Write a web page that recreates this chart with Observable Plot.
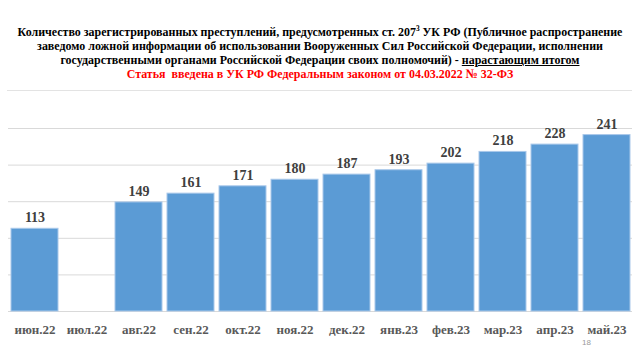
<!DOCTYPE html>
<html>
<head>
<meta charset="utf-8">
<script src="https://cdn.jsdelivr.net/npm/d3@7"></script>
<script src="https://cdn.jsdelivr.net/npm/@observablehq/plot@0.6"></script>
<style>
  html, body { margin: 0; padding: 0; background: #fff; }
  body { width: 640px; height: 360px; position: relative; overflow: hidden; font-family: "Liberation Serif", "Times New Roman", serif; }
  #title { position: absolute; left: 7px; top: 0; width: 625px; height: 91px; border-bottom: 1px solid #E3E3E3; box-sizing: border-box; font-weight: bold; font-size: 13px; line-height: 14px; color: #000; }
  #title .inner { position: absolute; left: 50%; top: 25px; width: 800px; text-align: center; white-space: nowrap; transform: translateX(-50%) scaleX(0.92); transform-origin: 50% 0; }
  #title .red { color: #FF0000; }
  #title u { text-decoration: underline; }
  #chart { position: absolute; left: 0; top: 92px; }
  #page { position: absolute; left: 582px; top: 338px; font-family: "Liberation Sans", Arial, sans-serif; font-size: 8px; color: #9A9A9A; }
</style>
</head>
<body>
<div id="title">
  <div class="inner">
    <div>Количество зарегистрированных преступлений, предусмотренных ст. 207<sup style="font-size:8px;line-height:0">3</sup> УК РФ (Публичное распространение</div>
    <div>заведомо ложной информации об использовании Вооруженных Сил Российской Федерации, исполнении</div>
    <div>государственными органами Российской Федерации своих полномочий) - <u>нарастающим итогом</u></div>
    <div class="red">Статья&nbsp; введена в УК РФ Федеральным законом от 04.03.2022 № 32-ФЗ</div>
  </div>
</div>
<div id="chart"></div>
<div id="page">18</div>
<script>
const months = ["июн.22","июл.22","авг.22","сен.22","окт.22","ноя.22","дек.22","янв.23","фев.23","мар.23","апр.23","май.23"];
const values = [113, null, 149, 161, 171, 180, 187, 193, 202, 218, 228, 241];
const yTicks = [0, 50, 100, 150, 200, 250];

const data = months.map((m, i) => ({month: m, value: values[i]}));
const present = data.filter(d => d.value != null);

const chart = Plot.plot({
  width: 640,
  height: 268,
  marginLeft: 5,
  marginRight: 5,
  marginTop: 36,
  marginBottom: 49,
  style: {background: "transparent", fontFamily: "'Liberation Serif', 'Times New Roman', serif"},
  x: {domain: months, padding: 0.1, label: null},
  y: {domain: [0, 250], label: null, axis: null},
  marks: [
    Plot.ruleY(yTicks, {stroke: "#D9D9D9", strokeWidth: 1, insetLeft: 3, insetRight: 3}),
    Plot.barY(present, {x: "month", y: "value", fill: "#5B9BD5", stroke: "#A9C8EA", strokeWidth: 1}),
    Plot.text(present, {x: "month", y: "value", text: d => String(d.value), dy: -11, fontSize: 14, fontWeight: "bold", fill: "#404040"}),
    Plot.axisX({tickSize: 0, tickPadding: 13, fontSize: 13, fontWeight: "bold", fill: "#595959", label: null})
  ]
});
document.getElementById("chart").appendChild(chart);
</script>
</body>
</html>
